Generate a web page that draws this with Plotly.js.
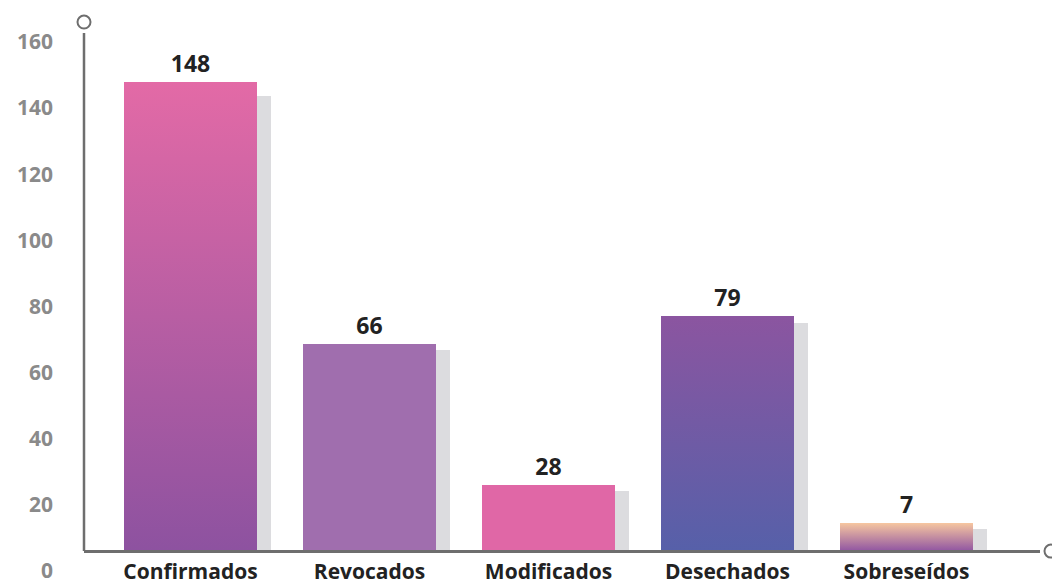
<!DOCTYPE html>
<html>
<head>
<meta charset="utf-8">
<script src="https://cdn.plot.ly/plotly-3.0.1.min.js"></script>
<style>
  html, body { margin: 0; padding: 0; background: #fff; }
  #chart { width: 1052px; height: 581px; }
</style>
</head>
<body>
<div id="chart"></div>
<script>
// ---- data ----
const categories = ["Confirmados", "Revocados", "Modificados", "Desechados", "Sobreseídos"];
const valueLabels = [148, 66, 28, 79, 7];            // numbers printed above bars
const barTops = [148.0, 68.6, 26.0, 77.0, 14.5];     // bar tops as drawn (axis units)
const shadowTops = [143.8, 66.8, 24.2, 74.9, 12.7];  // grey shadow tops (axis units)
const yTickValues = [0, 20, 40, 60, 80, 100, 120, 140, 160];
const axisBase = 6.05;                               // value where the x axis line sits

// ---- styles ----
const gradients = [
  ["#e36aa6", "#8d52a0"],
  ["#a06eae", "#a06eae"],
  ["#e067a6", "#e067a6"],
  ["#8b55a0", "#5660a9"],
  ["#f6c6a0", "#9055a2"]
];
const fontFam = "'Open Sans', 'Noto Sans', sans-serif";
const axisColor = "#6e6e6e";

const yMin = -3.0, yMax = 160;
const toPaper = v => (v - yMin) / (yMax - yMin);

const barWidth = 0.743;
const shadowShift = 0.078;

const shadowTrace = {
  type: "bar",
  x: categories,
  y: shadowTops.map(v => v - axisBase),
  base: categories.map(() => axisBase),
  width: categories.map(() => barWidth),
  offset: categories.map(() => -barWidth / 2 + shadowShift),
  marker: { color: "#dcdcdf", line: { width: 0 } },
  hoverinfo: "skip",
  showlegend: false
};

const mainTrace = {
  type: "bar",
  x: categories,
  y: barTops.map(v => v - axisBase),
  base: categories.map(() => axisBase),
  width: categories.map(() => barWidth),
  offset: categories.map(() => -barWidth / 2),
  marker: { color: gradients.map(g => g[0]), line: { width: 0 } },
  text: valueLabels.map(String),
  textposition: "outside",
  textangle: 0,
  constraintext: "none",
  cliponaxis: false,
  outsidetextfont: { family: fontFam, size: 23, color: "#222222", weight: 700 },
  showlegend: false
};

const layout = {
  width: 1052,
  height: 581,
  margin: { l: 84, r: 12, t: 42, b: 0 },
  paper_bgcolor: "#ffffff",
  plot_bgcolor: "rgba(0,0,0,0)",
  barmode: "overlay",
  bargap: 0,
  showlegend: false,
  xaxis: {
    type: "category",
    range: [-0.595, 4.746],
    anchor: "free",
    position: toPaper(axisBase),
    showline: true,
    linecolor: axisColor,
    linewidth: 2.5,
    showgrid: false,
    zeroline: false,
    ticks: "",
    ticklabelstandoff: 1,
    ticklabeloverflow: "allow",
    tickfont: { family: fontFam, size: 21, color: "#222222", weight: 700 },
    fixedrange: true
  },
  yaxis: {
    range: [yMin, yMax],
    tickvals: yTickValues,
    ticktext: yTickValues.map(String),
    showline: false,
    showgrid: false,
    zeroline: false,
    ticks: "",
    ticklabelstandoff: 30,
    ticklabeloverflow: "allow",
    tickfont: { family: fontFam, size: 21, color: "#8a8a8a", weight: 700 },
    fixedrange: true
  },
  shapes: [
    { type: "line", xref: "paper", yref: "paper", x0: 0, x1: 0, y0: toPaper(axisBase), y1: 1.0167,
      line: { color: axisColor, width: 2.5 } },
    { type: "circle", xref: "paper", yref: "paper", xsizemode: "pixel", ysizemode: "pixel",
      xanchor: 0, yanchor: 1.037, x0: -6.5, x1: 6.5, y0: -6.5, y1: 6.5,
      fillcolor: "#ffffff", line: { color: axisColor, width: 2 } },
    { type: "circle", xref: "paper", yref: "paper", xsizemode: "pixel", ysizemode: "pixel",
      xanchor: 1.0115, yanchor: toPaper(axisBase), x0: -6.5, x1: 6.5, y0: -6.5, y1: 6.5,
      fillcolor: "#ffffff", line: { color: axisColor, width: 2 } }
  ]
};

Plotly.newPlot("chart", [shadowTrace, mainTrace], layout, { displayModeBar: false, staticPlot: true })
.then(gd => {
  const svg = gd.querySelector("svg.main-svg");
  const ns = "http://www.w3.org/2000/svg";
  let defs = svg.querySelector("defs");
  if (!defs) { defs = document.createElementNS(ns, "defs"); svg.insertBefore(defs, svg.firstChild); }
  gradients.forEach((g, i) => {
    const lg = document.createElementNS(ns, "linearGradient");
    lg.setAttribute("id", "barGrad" + i);
    lg.setAttribute("x1", "0"); lg.setAttribute("y1", "0");
    lg.setAttribute("x2", "0"); lg.setAttribute("y2", "1");
    [[0, g[0]], [1, g[1]]].forEach(([o, c]) => {
      const st = document.createElementNS(ns, "stop");
      st.setAttribute("offset", String(o));
      st.setAttribute("stop-color", c);
      lg.appendChild(st);
    });
    defs.appendChild(lg);
  });
  const traces = gd.querySelectorAll(".barlayer .trace");
  const main = traces[traces.length - 1];
  main.querySelectorAll(".point path").forEach((p, i) => {
    p.style.fill = "url(#barGrad" + i + ")";
  });
});
</script>
</body>
</html>
